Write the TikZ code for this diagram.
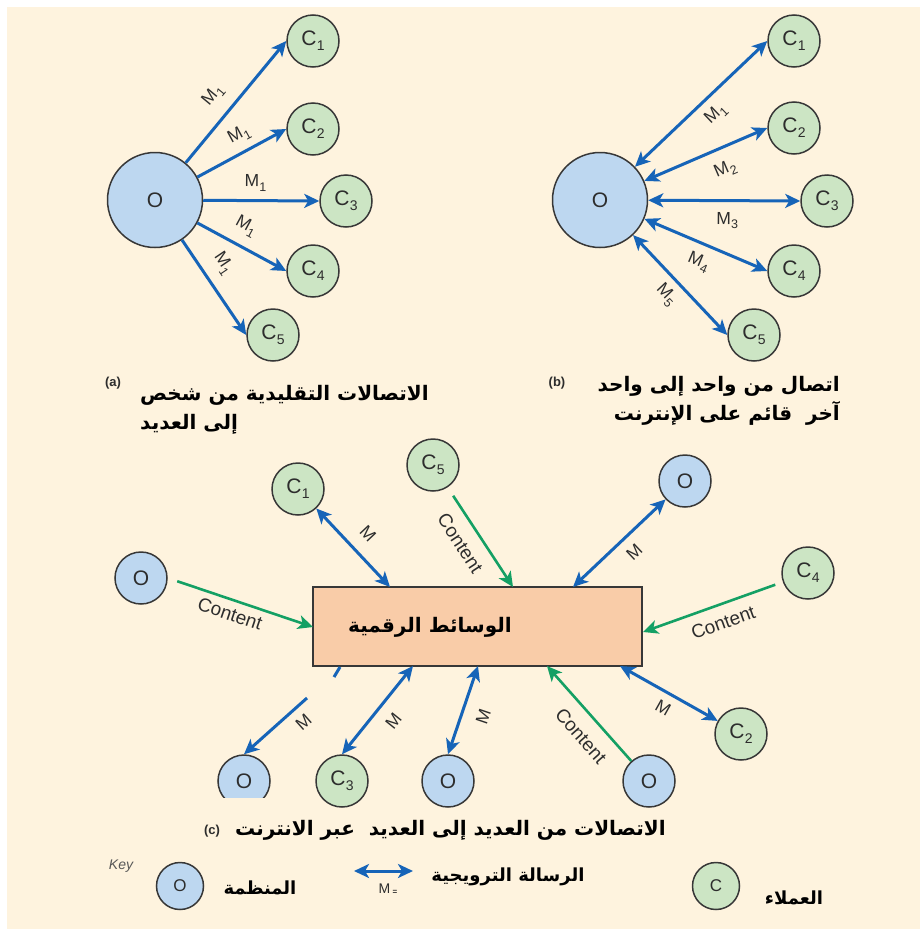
\documentclass[tikz,border=0pt]{standalone}
\usepackage{fontspec}
\setmainfont{Liberation Sans}
\newfontfamily\arabicfont[Script=Arabic]{DejaVu Sans}
\TeXXeTstate=1
\usetikzlibrary{arrows.meta}
\definecolor{bgcream}{RGB}{254,243,222}
\definecolor{oblue}{RGB}{189,215,240}
\definecolor{cgreen}{RGB}{204,229,196}
\definecolor{rim}{RGB}{55,55,55}
\definecolor{arblue}{RGB}{22,100,184}
\definecolor{argreen}{RGB}{20,160,100}
\definecolor{boxfill}{RGB}{249,204,168}
\definecolor{lbl}{RGB}{45,45,45}
\newcommand\fLbl{\fontsize{17.5}{17.5}\selectfont}
\newcommand\fCnt{\fontsize{19}{19}\selectfont}
\newcommand\fAr{\fontsize{20}{20}\selectfont}
\newcommand\lsub[2]{#1\kern0.3pt\raisebox{-4.5pt}{\fontsize{12.5}{12.5}\selectfont #2}}
\newcommand\csub[2]{#1\kern0.3pt\raisebox{-5pt}{\fontsize{14}{14}\selectfont #2}}
\newcommand\artxt[1]{{\arabicfont\bfseries\beginR #1\endR}}
\begin{document}
\begin{tikzpicture}[x=1pt,y=-1pt,
  >={Stealth[length=15pt,width=14pt,inset=4pt]},
  ring/.style={circle, draw=rim, line width=1.5pt, inner sep=0pt, text=lbl},
  bigorg/.style={ring, fill=oblue, minimum size=95pt, font=\fontsize{21}{21}\selectfont},
  org/.style={ring, fill=oblue, minimum size=52pt, font=\fontsize{21}{21}\selectfont},
  cli/.style={ring, fill=cgreen, minimum size=52pt, font=\fontsize{21}{21}\selectfont},
  korg/.style={ring, fill=oblue, minimum size=47pt, font=\fontsize{17}{17}\selectfont},
  kcli/.style={ring, fill=cgreen, minimum size=47pt, font=\fontsize{17}{17}\selectfont},
  msg/.style={draw=arblue, line width=3pt},
  cont/.style={draw=argreen, line width=2.6pt, ->},
  lab/.style={sloped, inner sep=1pt, font=\fLbl, text=lbl},
  clab/.style={sloped, inner sep=1pt, font=\fCnt, text=lbl},
  artext/.style={inner sep=0pt, font=\fAr, text=black},
  caplbl/.style={inner sep=0pt, font=\bfseries\fontsize{13}{13}\selectfont, text=lbl},
  mediabox/.style={draw=rim, line width=1.5pt, fill=boxfill, minimum width=329pt, minimum height=79pt}
]
\useasboundingbox (0,0) rectangle (920,929);
\fill[white] (0,0) rectangle (920,929);
\fill[bgcream] (7,7) rectangle (920,929);

% ---------- (a)
\node[bigorg] (Oa) at (155,200) {O};
\node[cli] (a1) at (313,41) {\csub{C}{1}};
\node[cli] (a2) at (313,129) {\csub{C}{2}};
\node[cli] (a3) at (346,201) {\csub{C}{3}};
\node[cli] (a4) at (313,271) {\csub{C}{4}};
\node[cli] (a5) at (273,335) {\csub{C}{5}};
\draw[msg,->] (Oa) -- (a1.west) node[lab,pos=0.44,above=11pt] {\lsub{M}{1}};
\draw[msg,->] (Oa) -- (a2.west) node[lab,pos=0.56,above=6pt] {\lsub{M}{1}};
\draw[msg,->] (Oa) -- (a3.west) node[lab,pos=0.45,above=7pt] {\lsub{M}{1}};
\draw[msg,->] (Oa) -- (a4.west) node[lab,pos=0.44,above=9pt] {\lsub{M}{1}};
\draw[msg,->] (Oa) -- (a5.west) node[lab,pos=0.37,above=10pt] {\lsub{M}{1}};

% ---------- (b)
\node[bigorg] (Ob) at (600,200) {O};
\node[cli] (b1) at (794,41) {\csub{C}{1}};
\node[cli] (b2) at (794,128) {\csub{C}{2}};
\node[cli] (b3) at (827,201) {\csub{C}{3}};
\node[cli] (b4) at (794,271) {\csub{C}{4}};
\node[cli] (b5) at (754,335) {\csub{C}{5}};
\draw[msg,<->] (Ob) -- (b1.west) node[lab,pos=0.52,below=7pt] {\lsub{M}{1}};
\draw[msg,<->] (Ob) -- (b2.west) node[lab,pos=0.59,below=11pt] {\lsub{M}{2}};
\draw[msg,<->] (Ob) -- (b3.west) node[lab,pos=0.52,below=9pt] {\lsub{M}{3}};
\draw[msg,<->] (Ob) -- (b4.west) node[lab,pos=0.50,below=8pt] {\lsub{M}{4}};
\draw[msg,<->] (Ob) -- (b5.west) node[lab,pos=0.48,below=6pt] {\lsub{M}{5}};

% captions (a) (b)
\node[caplbl] (capa) at (113,383) {(a)};
\node[artext,anchor=west] (capa1) at (140,395) {\artxt{الاتصالات التقليدية من شخص}};
\node[artext,anchor=west] (capa2) at (140,424) {\artxt{إلى العديد}};
\node[caplbl] (capb) at (557,383) {(b)};
\node[artext,anchor=east] (capb1) at (840,386) {\artxt{اتصال من واحد إلى واحد}};
\node[artext,anchor=east] (capb2) at (840,413) {\artxt{آخر\ \ قائم على الإنترنت}};

% ---------- (c)
\node[mediabox] (media) at (477.5,626.5) {};
\node[artext] (mediatext) at (430,627) {\artxt{الوسائط الرقمية}};

\node[cli] (c1) at (298,489) {\csub{C}{1}};
\node[cli] (c5) at (433,465) {\csub{C}{5}};
\node[org] (ol) at (141,578) {O};
\node[org] (otr) at (685,481) {O};
\node[cli] (c4) at (808,573) {\csub{C}{4}};
\begin{scope}
  \clip (200,730) rectangle (300,797);
  \node[org] (o1) at (244,781) {O};
\end{scope}
\node[cli] (c3) at (342,781) {\csub{C}{3}};
\node[org] (o2) at (448,781) {O};
\node[org] (o3) at (649,781) {O};
\node[cli] (c2) at (741,734) {\csub{C}{2}};

\coordinate (t1) at (390,587);
\coordinate (t2) at (513,587);
\coordinate (t3) at (313,627);
\coordinate (t4) at (573,587);
\coordinate (t5) at (643,632);
\coordinate (t6) at (413,666);
\coordinate (t7) at (478,666);
\coordinate (t8) at (547,666);
\coordinate (t9) at (620,666);
\coordinate (f1) at (340,667);
\coordinate (f2) at (334,677);
\coordinate (g1) at (307,698);

\draw[msg,<->] (c1) -- (t1) node[lab,pos=0.5,above=12pt] {M};
\draw[cont,shorten <=10pt] (c5) -- (t2) node[clab,pos=0.45,below=11pt] {Content};
\draw[cont,shorten <=10pt] (ol.east) -- (t3) node[clab,pos=0.46,below=5pt] {Content};
\draw[msg,<->] (t4) -- (otr) node[lab,pos=0.54,below=8pt] {M};
\draw[cont,shorten <=8pt] (c4) -- (t5) node[clab,pos=0.47,below=9pt] {Content};
\draw[msg] (f1) -- (f2);
\draw[msg,->] (g1) -- (o1.north) node[lab,pos=0.22,below=7pt] {M};
\draw[msg,<->] (t6) -- (c3.north) node[lab,pos=0.49,below=11pt] {M};
\draw[msg,<->] (t7) -- (o2.north) node[lab,pos=0.5,below=13pt] {M};
\draw[cont] (o3) -- (t8) node[clab,pos=0.41,below=12pt] {Content};
\draw[msg,<->] (t9) -- (c2) node[lab,pos=0.52,below=7pt] {M};

% caption (c)
\node[caplbl] (capc) at (212,831) {(c)};
\node[artext,anchor=west] (capc1) at (235,830) {\artxt{الاتصالات من العديد إلى العديد\ \ عبر الانترنت}};

% ---------- key
\node[inner sep=0pt, font=\itshape\fontsize{14}{14}\selectfont, text=lbl!80] (keylbl) at (121,866) {Key};
\node[korg] (ko) at (180,886) {O};
\node[artext,font=\fontsize{18}{18}\selectfont] (kotext) at (260,888) {\artxt{المنظمة}};
\coordinate (ka1) at (354,871);
\coordinate (ka2) at (413,871);
\draw[msg,<->] (ka1) -- (ka2);
\node[inner sep=0pt, font=\fontsize{14}{14}\selectfont, text=lbl] (km) at (388,889) {M\,\raisebox{-1pt}{\fontsize{8}{8}\selectfont\bfseries =}};
\node[artext,font=\fontsize{18}{18}\selectfont] (kmtext) at (508,877) {\artxt{الرسالة الترويجية}};
\node[kcli] (kc) at (716,886) {C};
\node[artext,font=\fontsize{18}{18}\selectfont] (kctext) at (794,898) {\artxt{العملاء}};
\end{tikzpicture}
\end{document}
